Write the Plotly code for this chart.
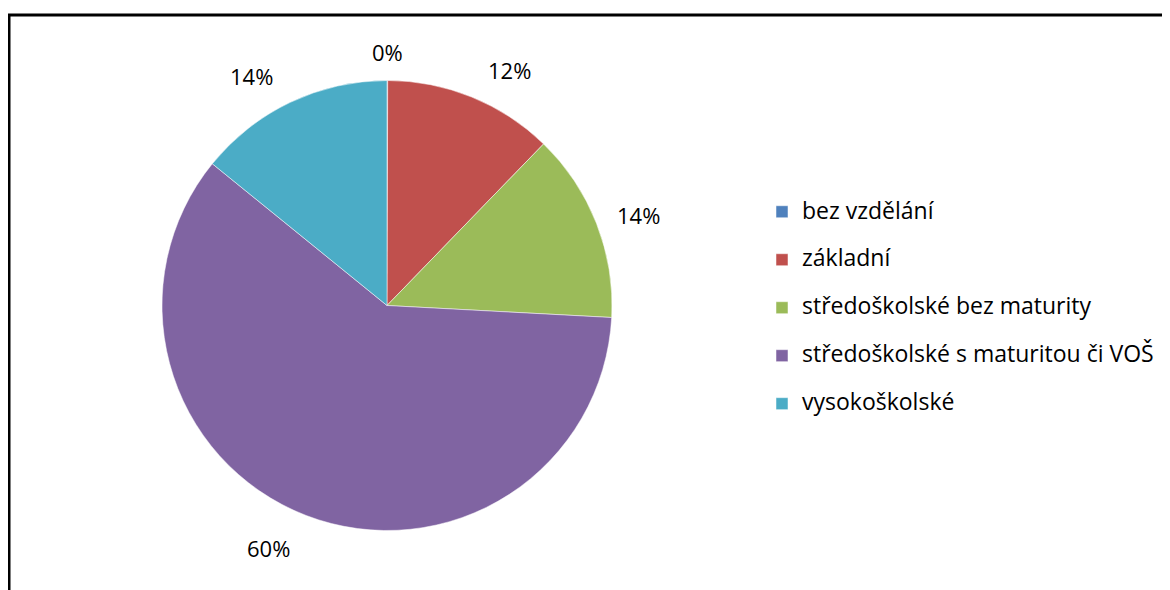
import math
import plotly.graph_objects as go

labels = ["bez vzdělání", "základní", "středoškolské bez maturity",
          "středoškolské s maturitou či VOŠ", "vysokoškolské"]
values = [0.05, 12.2, 13.6, 60.0, 14.15]
colors = ["#4F81BD", "#C0504D", "#9BBB59", "#8064A2", "#4BACC6"]

W, H = 1170, 590
# pie geometry in figure pixels (page has an 8px body margin)
cx, cy, r = 379, 297.5, 225
FONT = "Open Sans"

legend_labels = ['<span style="font-size:23px">%s</span><br> ' % l for l in labels]

fig = go.Figure(go.Pie(
    labels=legend_labels,
    values=values,
    sort=False,
    direction="clockwise",
    rotation=0,
    marker=dict(colors=colors, line=dict(color="white", width=0.5)),
    textinfo="none",
    domain=dict(x=[(cx - r) / W, (cx + r) / W], y=[(H - cy - r) / H, (H - cy + r) / H]),
    hoverinfo="skip",
))

# outside-end percentage labels, positioned from the slice mid-angles
total = sum(values)
annotations = []
cum = 0.0
for v in values:
    mid = (cum + v / 2) / total * 2 * math.pi
    cum += v
    txt = "%d%%" % round(v / total * 100)
    s, c = math.sin(mid), math.cos(mid)
    w, h, g = 14.5 * len(txt), 24, 20
    px = cx + (r + g) * s + (w / 2) * s + 26 * c * c * math.tanh(10 * s)
    py = cy - (r + g) * c - (h / 2) * c + 3
    annotations.append(dict(
        x=px / W, y=1 - py / H, xref="paper", yref="paper",
        text=txt, showarrow=False, xanchor="center", yanchor="middle",
        font=dict(family=FONT, size=22, color="black"),
    ))

fig.update_layout(
    width=W, height=H,
    margin=dict(l=0, r=0, t=0, b=0),
    paper_bgcolor="white",
    plot_bgcolor="white",
    showlegend=True,
    annotations=annotations,
    legend=dict(
        x=754 / W, xanchor="left",
        y=(H - 186) / H, yanchor="top",
        font=dict(family=FONT, size=17.3, color="black"),
        valign="top",
        bgcolor="rgba(0,0,0,0)",
    ),
    shapes=[dict(type="rect", xref="paper", yref="paper",
                 x0=1 / W, x1=1.05, y0=-0.05, y1=(H - 7) / H,
                 line=dict(color="black", width=3))],
)

fig.write_html("out.html")
